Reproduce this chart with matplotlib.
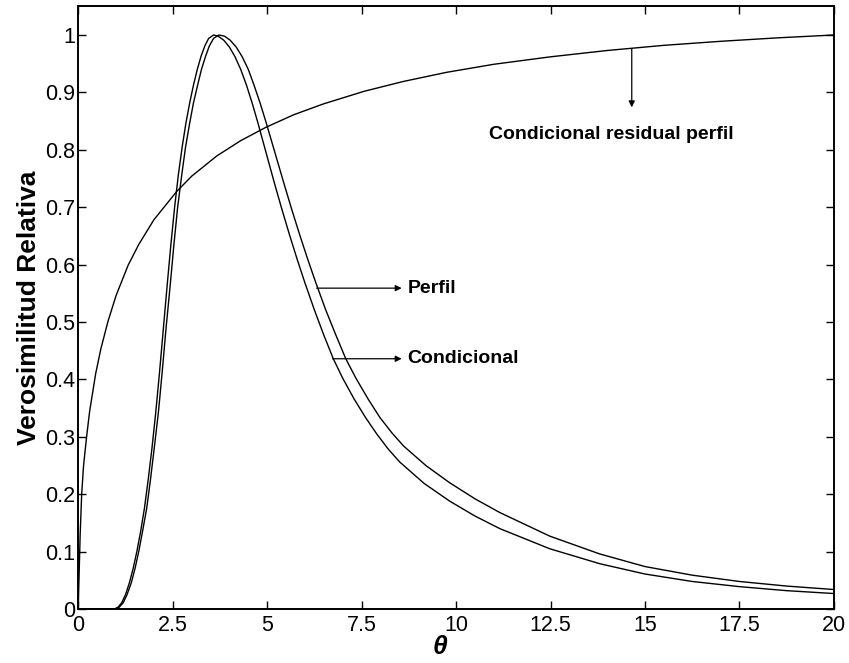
import matplotlib
matplotlib.use('Agg')
import matplotlib.pyplot as plt

plt.rcParams['font.family'] = ['Liberation Sans', 'DejaVu Sans']

# valores (theta, verosimilitud relativa)
theta_cond = [0, 0.5, 0.95, 1.05, 1.15, 1.25, 1.35, 1.45, 1.55, 1.65, 1.75, 1.85, 1.95,
              2.05, 2.15, 2.25, 2.35, 2.45, 2.55, 2.65, 2.75, 2.85, 2.95, 3.05, 3.15,
              3.25, 3.35, 3.45, 3.58, 3.70, 3.85, 4.00, 4.15, 4.30, 4.45, 4.60, 4.75,
              4.90, 5.05, 5.20, 5.40, 5.60, 5.80, 6.00, 6.25, 6.50, 6.75, 7.00, 7.30,
              7.60, 7.90, 8.20, 8.51, 9.15, 9.83, 10.5, 11.16, 12.48, 13.8, 15.0,
              16.25, 17.5, 18.75, 20]
rv_cond = [0, 0, 0, 0.003, 0.011, 0.025, 0.045, 0.070, 0.100, 0.135, 0.175, 0.225, 0.280,
           0.342, 0.412, 0.487, 0.562, 0.634, 0.700, 0.757, 0.805, 0.847, 0.882, 0.913, 0.940,
           0.963, 0.981, 0.994, 1.0, 0.998, 0.991, 0.979, 0.962, 0.940, 0.913, 0.882, 0.848,
           0.812, 0.776, 0.740, 0.694, 0.650, 0.608, 0.568, 0.521, 0.477, 0.436, 0.402, 0.366,
           0.334, 0.305, 0.279, 0.256, 0.219, 0.188, 0.162, 0.140, 0.105, 0.079, 0.061,
           0.048, 0.039, 0.032, 0.027]

theta_perfil = [0, 0.5, 0.98, 1.08, 1.19, 1.29, 1.40, 1.50, 1.60, 1.70, 1.81, 1.91, 2.01,
                2.12, 2.22, 2.32, 2.43, 2.53, 2.63, 2.74, 2.84, 2.95, 3.05, 3.16, 3.26,
                3.37, 3.47, 3.58, 3.72, 3.87, 4.02, 4.18, 4.34, 4.50, 4.65, 4.81, 4.97,
                5.13, 5.29, 5.45, 5.66, 5.87, 6.08, 6.29, 6.55, 6.82, 7.08, 7.35, 7.67,
                7.98, 8.30, 8.61, 9.20, 9.83, 10.5, 11.16, 12.48, 13.8, 15.0, 16.25,
                17.5, 18.75, 20]
rv_perfil = [0, 0, 0, 0.003, 0.011, 0.025, 0.045, 0.070, 0.100, 0.135, 0.175, 0.225, 0.280,
             0.342, 0.412, 0.487, 0.562, 0.634, 0.700, 0.757, 0.805, 0.847, 0.882, 0.913, 0.940,
             0.963, 0.981, 0.994, 1.0, 0.998, 0.991, 0.979, 0.962, 0.940, 0.913, 0.882, 0.848,
             0.812, 0.776, 0.740, 0.694, 0.650, 0.608, 0.568, 0.521, 0.477, 0.436, 0.402, 0.366,
             0.334, 0.307, 0.284, 0.250, 0.220, 0.192, 0.168, 0.127, 0.096, 0.074, 0.059,
             0.048, 0.040, 0.034]

theta_resid = [0, 0.004, 0.012, 0.026, 0.05, 0.09, 0.14, 0.22, 0.30, 0.46, 0.60, 0.79,
               1.0, 1.32, 1.6, 2.0, 2.6, 3.0, 3.66, 4.3, 4.96, 5.7, 6.49, 7.57, 8.6,
               9.75, 11.0, 12.5, 14.0, 15.5, 17.0, 18.5, 20]
rv_resid = [0, 0.012, 0.035, 0.07, 0.13, 0.20, 0.25, 0.30, 0.344, 0.410, 0.454, 0.502,
            0.546, 0.599, 0.635, 0.678, 0.727, 0.754, 0.789, 0.816, 0.839, 0.861, 0.880,
            0.902, 0.919, 0.935, 0.949, 0.962, 0.973, 0.982, 0.989, 0.995, 1.0]

xticks = [0, 2.5, 5, 7.5, 10, 12.5, 15, 17.5, 20]
xticklabels = ['0', '2.5', '5', '7.5', '10', '12.5', '15', '17.5', '20']
yticks = [0, 0.1, 0.2, 0.3, 0.4, 0.5, 0.6, 0.7, 0.8, 0.9, 1]
yticklabels = ['0', '0.1', '0.2', '0.3', '0.4', '0.5', '0.6', '0.7', '0.8', '0.9', '1']

fig = plt.figure(figsize=(8.49, 6.63), dpi=100)
ax = fig.add_axes([0.0922, 0.0814, 0.8900, 0.9091])

ax.plot(theta_cond, rv_cond, color='black', lw=1.0)
ax.plot(theta_perfil, rv_perfil, color='black', lw=1.0)
ax.plot(theta_resid, rv_resid, color='black', lw=1.0)

ax.set_xlim(0, 20)
ax.set_ylim(0, 1.05)
ax.set_xticks(xticks)
ax.set_xticklabels(xticklabels)
ax.set_yticks(yticks)
ax.set_yticklabels(yticklabels)
ax.tick_params(direction='in', length=6, width=1, labelsize=15.5, top=True, right=True)
ax.tick_params(axis='y', pad=2)
ax.tick_params(axis='x', pad=4)
for s in ax.spines.values():
    s.set_linewidth(1.4)

ax.set_ylabel('Verosimilitud Relativa', fontsize=19, fontweight='bold', labelpad=3)
ax.set_xlabel('θ', fontsize=19, fontweight='bold', fontstyle='italic')
ax.xaxis.set_label_coords(0.479, -0.043)

arrow = dict(arrowstyle='-|>', color='black', lw=0.9, mutation_scale=9, shrinkA=0, shrinkB=0)
ax.annotate('', xy=(8.56, 0.559), xytext=(6.31, 0.559), arrowprops=arrow)
ax.text(8.72, 0.559, 'Perfil', fontsize=14, fontweight='bold', va='center', ha='left')
ax.annotate('', xy=(8.56, 0.436), xytext=(6.73, 0.436), arrowprops=arrow)
ax.text(8.72, 0.436, 'Condicional', fontsize=14, fontweight='bold', va='center', ha='left')
ax.annotate('', xy=(14.65, 0.874), xytext=(14.65, 0.976), arrowprops=arrow)
ax.text(14.1, 0.827, 'Condicional residual perfil', fontsize=14, fontweight='bold',
        va='center', ha='center')

fig.savefig('out.png', dpi=100)
